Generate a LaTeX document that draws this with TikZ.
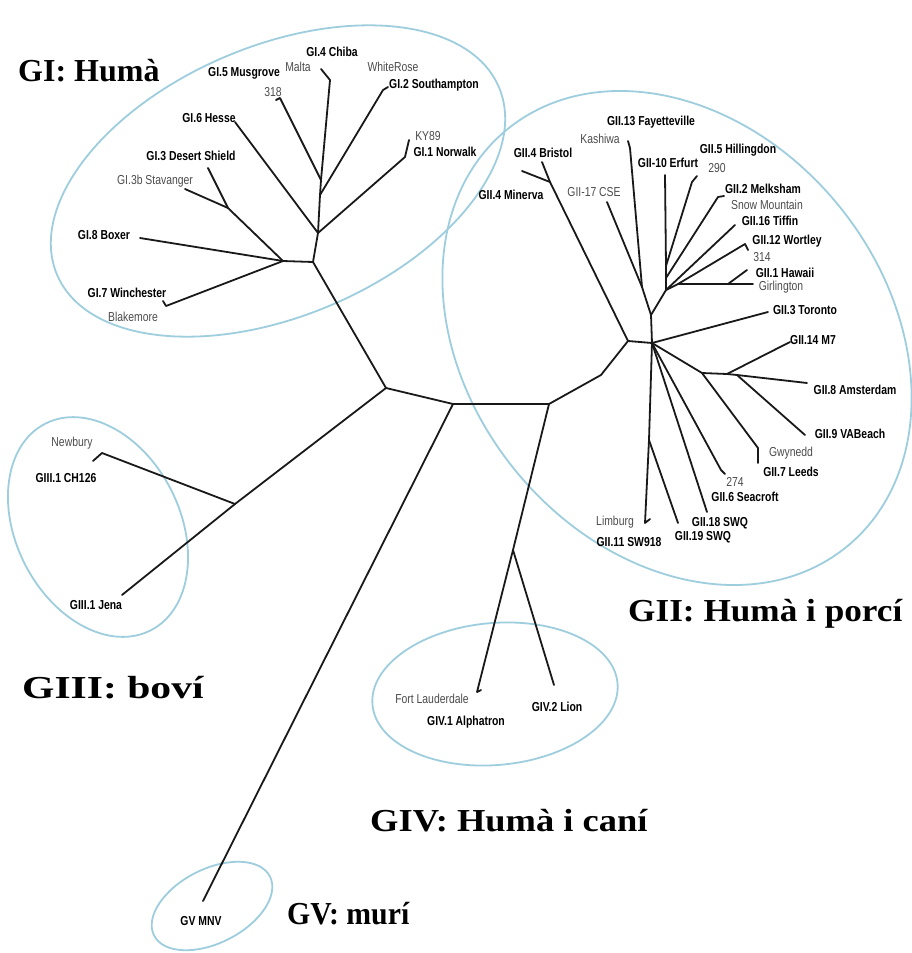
\documentclass[tikz,border=0pt]{standalone}
\usepackage{fontspec}
\setmainfont{Liberation Serif}
\newfontfamily\labfam{Liberation Sans}[FakeStretch=0.8]
\newcommand\labf{\labfam\fontsize{13}{15}\selectfont}
\definecolor{ellc}{RGB}{158,206,222}
\begin{document}
\begin{tikzpicture}[x=1pt,y=-1pt]
\tikzset{
 br/.style={line width=1.8pt, black!90, line cap=round, line join=round},
 grp/.style={draw=ellc, line width=1.8pt},
 lb/.style={font=\labf\bfseries, inner sep=0pt},
 lr/.style={font=\labf, text=black!70, inner sep=0pt},
 gt/.style={font=\fontsize{32}{36}\selectfont\bfseries, anchor=base west, inner sep=0pt},
}
\fill[white] (0,0) rectangle (911,953);
\useasboundingbox (0,0) rectangle (911,953);

% ---------- group ellipses
\draw[grp, shift={(278,181)}, rotate=23] (0,0) ellipse [x radius=240pt, y radius=135pt];
\draw[grp, shift={(677,338)}, rotate=39] (0,0) ellipse [x radius=209pt, y radius=269pt];
\draw[grp, shift={(98,527)}, rotate=27] (0,0) ellipse [x radius=82pt, y radius=116pt];
\draw[grp, shift={(495,694)}, rotate=5] (0,0) ellipse [x radius=123pt, y radius=71pt];
\draw[grp, shift={(212,906)}, rotate=27] (0,0) ellipse [x radius=65pt, y radius=37pt];

% ---------- internal coordinates
\coordinate (C1) at (386,388);
\coordinate (C2) at (453,404);
\coordinate (C3) at (549,404);
\coordinate (C3a) at (601,375);
\coordinate (B0) at (628,341);
\coordinate (H) at (652,343);
% GI
\coordinate (R0) at (313,262);
\coordinate (N1) at (283,261);
\coordinate (N2) at (228,208);
\coordinate (N3) at (318,233);
\coordinate (N4) at (320,195);
\coordinate (N5) at (321,180);
\coordinate (tChiba) at (330,80);
\coordinate (tChibaF) at (321,69);
\coordinate (t318) at (280,98);
\coordinate (t318F) at (276,100);
\coordinate (tSouth) at (383,90);
\coordinate (tSouthF) at (388,87);
\coordinate (tNor) at (405,157);
\coordinate (tNorF) at (409,140);
\coordinate (tHesse) at (235,122);
\coordinate (tDS) at (208,168);
\coordinate (tStav) at (185,189);
\coordinate (tBox) at (140,238);
\coordinate (tWin) at (166,306);
\coordinate (tWinF) at (163,301);
% GIII
\coordinate (G3) at (235,504);
\coordinate (tNew) at (102,453);
\coordinate (tNewF) at (93,461);
\coordinate (tJena) at (122,595);
% GII
\coordinate (BM) at (550,182);
\coordinate (tBri) at (542,162);
\coordinate (tMin) at (522,171);
\coordinate (F0) at (651,315);
\coordinate (K0) at (642,287);
\coordinate (tKas) at (630,148);
\coordinate (tKasF) at (628,141);
\coordinate (tCSE) at (607,202);
\coordinate (F1) at (666,290);
\coordinate (S1) at (666,266);
\coordinate (S2) at (666,278);
\coordinate (tErf) at (665,175);
\coordinate (tHil) at (692,182);
\coordinate (tHilF) at (697,176);
\coordinate (tMel) at (718,197);
\coordinate (tMelF) at (724,196);
\coordinate (tTif) at (735,225);
\coordinate (F3) at (678,284);
\coordinate (tWor) at (745,244);
\coordinate (tWorF) at (748,250);
\coordinate (HW) at (728,284);
\coordinate (tHaw) at (747,270);
\coordinate (tGir) at (753,284);
\coordinate (tTor) at (768,312);
\coordinate (M) at (702,373);
\coordinate (M2) at (727,374);
\coordinate (M3) at (737,375);
\coordinate (tM7) at (790,342);
\coordinate (tAms) at (807,383);
\coordinate (tVAB) at (805,435);
\coordinate (tLee) at (758,448);
\coordinate (tLeeF) at (758,463);
\coordinate (t274) at (721,470);
\coordinate (t274F) at (725,474);
\coordinate (tS18) at (707,512);
\coordinate (S11n) at (649,440);
\coordinate (tS11) at (645,523);
\coordinate (tS11F) at (650,519);
\coordinate (tS19) at (678,523);
% GIV, GV
\coordinate (G4) at (513,550);
\coordinate (tFL) at (477,692);
\coordinate (tFLF) at (481,690);
\coordinate (tLion) at (554,685);
\coordinate (tGV) at (203,901);

% ---------- branches
\draw[br] (C1) -- (C2) -- (C3) -- (C3a) -- (B0) -- (H);
\draw[br] (B0) -- (BM) -- (tBri);
\draw[br] (BM) -- (tMin);
\draw[br] (H) -- (F0) -- (K0) -- (tKas) -- (tKasF);
\draw[br] (K0) -- (tCSE);
\draw[br] (F0) -- (F1) -- (S2) -- (S1) -- (tErf);
\draw[br] (S1) -- (tHil) -- (tHilF);
\draw[br] (S2) -- (tMel) -- (tMelF);
\draw[br] (F1) -- (tTif);
\draw[br] (F1) -- (F3) -- (tWor) -- (tWorF);
\draw[br] (F3) -- (HW) -- (tGir);
\draw[br] (HW) -- (tHaw);
\draw[br] (H) -- (tTor);
\draw[br] (H) -- (M) -- (M2) -- (M3) -- (tAms);
\draw[br] (M2) -- (tM7);
\draw[br] (M3) -- (tVAB);
\draw[br] (M) -- (tLee) -- (tLeeF);
\draw[br] (H) -- (t274) -- (t274F);
\draw[br] (H) -- (tS18);
\draw[br] (H) -- (S11n) -- (tS11) -- (tS11F);
\draw[br] (S11n) -- (tS19);
\draw[br] (C3) -- (G4) -- (tFL) -- (tFLF);
\draw[br] (G4) -- (tLion);
\draw[br] (C2) -- (tGV);
\draw[br] (C1) -- (G3) -- (tNew) -- (tNewF);
\draw[br] (G3) -- (tJena);
\draw[br] (C1) -- (R0) -- (N1) -- (tBox);
\draw[br] (N1) -- (tWin) -- (tWinF);
\draw[br] (N1) -- (N2) -- (tDS);
\draw[br] (N2) -- (tStav);
\draw[br] (R0) -- (N3) -- (tHesse);
\draw[br] (N3) -- (tNor) -- (tNorF);
\draw[br] (N3) -- (N4) -- (N5) -- (tChiba) -- (tChibaF);
\draw[br] (N4) -- (tSouth) -- (tSouthF);
\draw[br] (N5) -- (t318) -- (t318F);

% ---------- leaf labels GI
\node[lb] (lChiba) at (332,52) {GI.4 Chiba};
\node[lr] (lMalta) at (298,67) {Malta};
\node[lb] (lMus) at (244,73) {GI.5 Musgrove};
\node[lr] (l318) at (273,92) {318};
\node[lr] (lWR) at (393,67) {WhiteRose};
\node[lb] (lSouth) at (434,85) {GI.2 Southampton};
\node[lr] (lKY) at (428,136) {KY89};
\node[lb] (lNor) at (445,152) {GI.1 Norwalk};
\node[lb] (lHesse) at (209,118) {GI.6 Hesse};
\node[lb] (lDS) at (191,156) {GI.3 Desert Shield};
\node[lr] (lStav) at (155,181) {GI.3b Stavanger};
\node[lb] (lBox) at (104,235) {GI.8 Boxer};
\node[lb] (lWin) at (127,293) {GI.7 Winchester};
\node[lr] (lBlake) at (133,317) {Blakemore};
% GII
\node[lb] (lFay) at (651,122) {GII.13 Fayetteville};
\node[lr] (lKas) at (600,139) {Kashiwa};
\node[lb] (lBri) at (543,153) {GII.4 Bristol};
\node[lb] (lMin) at (511,195) {GII.4 Minerva};
\node[lr] (lCSE) at (594,192) {GII-17 CSE};
\node[lb] (lErf) at (668,163) {GII-10 Erfurt};
\node[lb] (lHil) at (738,150) {GII.5 Hillingdon};
\node[lr] (l290) at (717,168) {290};
\node[lb] (lMel) at (763,189) {GII.2 Melksham};
\node[lr] (lSnow) at (767,205) {Snow Mountain};
\node[lb] (lTif) at (770,221) {GII.16 Tiffin};
\node[lb] (lWor) at (787,241) {GII.12 Wortley};
\node[lr] (l314) at (762,257) {314};
\node[lb] (lHaw) at (785,273) {GII.1 Hawaii};
\node[lr] (lGir) at (781,287) {Girlington};
\node[lb] (lTor) at (805,310) {GII.3 Toronto};
\node[lb] (lM7) at (813,340) {GII.14 M7};
\node[lb] (lAms) at (855,390) {GII.8 Amsterdam};
\node[lb] (lVAB) at (850,434) {GII.9 VABeach};
\node[lr] (lGwy) at (791,453) {Gwynedd};
\node[lb] (lLee) at (791,472) {GII.7 Leeds};
\node[lr] (l274) at (735,482) {274};
\node[lb] (lSea) at (745,497) {GII.6 Seacroft};
\node[lb] (lS18) at (720,523) {GII.18 SWQ};
\node[lb] (lS19) at (703,537) {GII.19 SWQ};
\node[lr] (lLim) at (615,522) {Limburg};
\node[lb] (lS11) at (629,542) {GII.11 SW918};
% GIII, GIV, GV
\node[lr] (lNew) at (72,443) {Newbury};
\node[lb] (lCH) at (66,478) {GIII.1 CH126};
\node[lb] (lJena) at (96,605) {GIII.1 Jena};
\node[lr] (lFL) at (432,699) {Fort Lauderdale};
\node[lb] (lAlp) at (466,722) {GIV.1 Alphatron};
\node[lb] (lLion) at (557,707) {GIV.2 Lion};
\node[lb] (lGV) at (201,921) {GV MNV};

% ---------- group titles
\node[gt] (gI) at (18,81) {GI: Humà};
\node[gt] (gII) at (628,621) {\scalebox{1.1}[1]{GII: Humà i porcí}};
\node[gt] (gIII) at (22,698) {\scalebox{1.3}[1]{GIII: boví}};
\node[gt] (gIV) at (370,831) {\scalebox{1.14}[1]{GIV: Humà i caní}};
\node[gt] (gV) at (287,924) {\scalebox{0.93}[1]{GV: murí}};
\end{tikzpicture}
\end{document}
